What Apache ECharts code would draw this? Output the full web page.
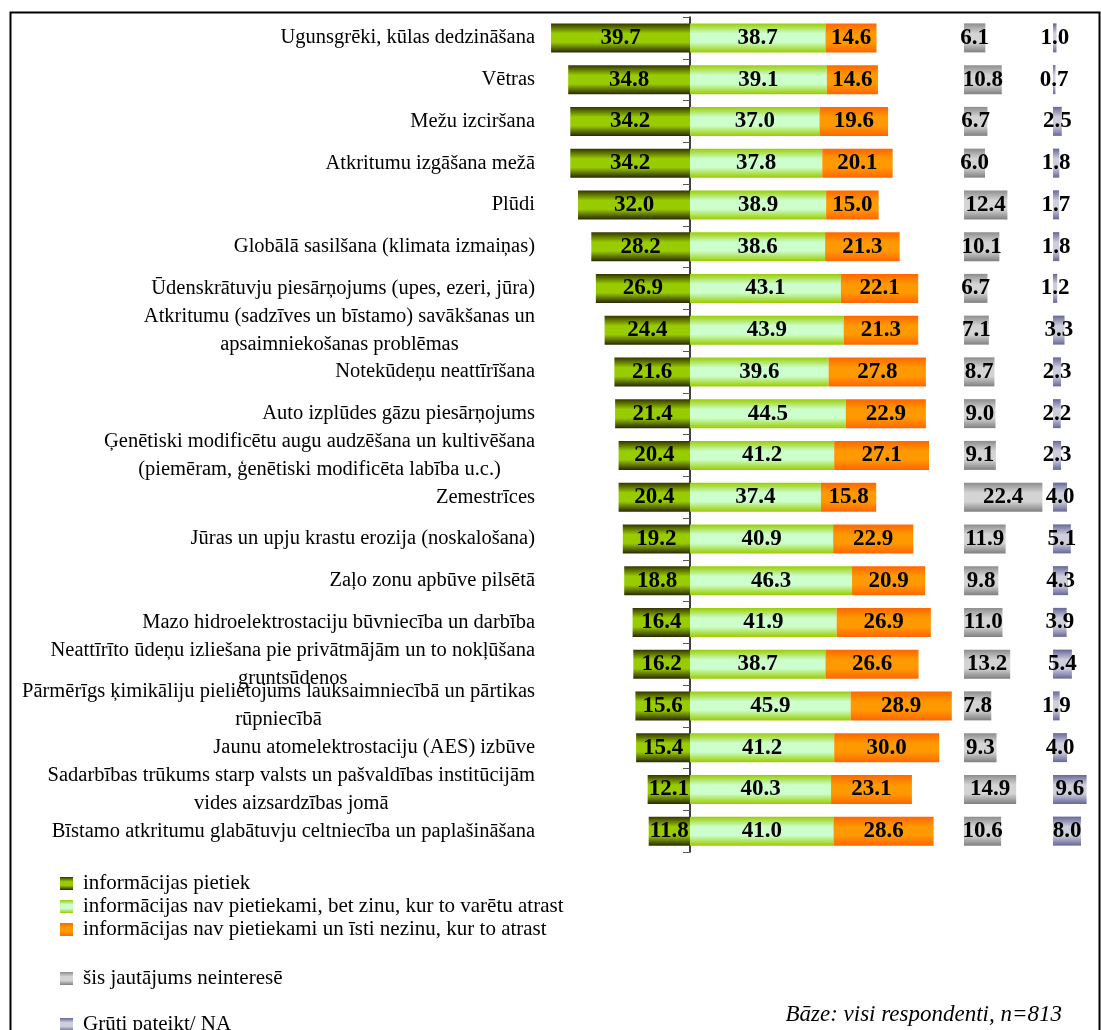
<!DOCTYPE html>
<html>
<head>
<meta charset="utf-8">
<script src="https://cdn.jsdelivr.net/npm/echarts@6/dist/echarts.min.js"></script>
<style>
  html, body { margin: 0; padding: 0; background: #fff; }
  #main { width: 1101px; height: 1030px; }
</style>
</head>
<body>
<div id="main"></div>
<script>
// kategorijas (no augšas uz leju)
var categories = [
  'Ugunsgrēki, kūlas dedzināšana',
  'Vētras',
  'Mežu izciršana',
  'Atkritumu izgāšana mežā',
  'Plūdi',
  'Globālā sasilšana (klimata izmaiņas)',
  'Ūdenskrātuvju piesārņojums (upes, ezeri, jūra)',
  'Atkritumu (sadzīves un bīstamo) savākšanas un\napsaimniekošanas problēmas',
  'Notekūdeņu neattīrīšana',
  'Auto izplūdes gāzu piesārņojums',
  'Ģenētiski modificētu augu audzēšana un kultivēšana\n(piemēram, ģenētiski modificēta labība u.c.)',
  'Zemestrīces',
  'Jūras un upju krastu erozija (noskalošana)',
  'Zaļo zonu apbūve pilsētā',
  'Mazo hidroelektrostaciju būvniecība un darbība',
  'Neattīrīto ūdeņu izliešana pie privātmājām un to nokļūšana\ngruntsūdenos',
  'Pārmērīgs ķimikāliju pielietojums lauksaimniecībā un pārtikas\nrūpniecībā',
  'Jaunu atomelektrostaciju (AES) izbūve',
  'Sadarbības trūkums starp valsts un pašvaldības institūcijām\nvides aizsardzības jomā',
  'Bīstamo atkritumu glabātuvju celtniecība un paplašināšana'
];

var infoEnough   = [39.7, 34.8, 34.2, 34.2, 32.0, 28.2, 26.9, 24.4, 21.6, 21.4, 20.4, 20.4, 19.2, 18.8, 16.4, 16.2, 15.6, 15.4, 12.1, 11.8];
var infoFindable = [38.7, 39.1, 37.0, 37.8, 38.9, 38.6, 43.1, 43.9, 39.6, 44.5, 41.2, 37.4, 40.9, 46.3, 41.9, 38.7, 45.9, 41.2, 40.3, 41.0];
var infoUnknown  = [14.6, 14.6, 19.6, 20.1, 15.0, 21.3, 22.1, 21.3, 27.8, 22.9, 27.1, 15.8, 22.9, 20.9, 26.9, 26.6, 28.9, 30.0, 23.1, 28.6];
var notInterested = [6.1, 10.8, 6.7, 6.0, 12.4, 10.1, 6.7, 7.1, 8.7, 9.0, 9.1, 22.4, 11.9, 9.8, 11.0, 13.2, 7.8, 9.3, 14.9, 10.6];
var hardToSay     = [1.0, 0.7, 2.5, 1.8, 1.7, 1.8, 1.2, 3.3, 2.3, 2.2, 2.3, 4.0, 5.1, 4.3, 3.9, 5.4, 1.9, 4.0, 9.6, 8.0];

var seriesNames = [
  'informācijas pietiek',
  'informācijas nav pietiekami, bet zinu, kur to varētu atrast',
  'informācijas nav pietiekami un īsti nezinu, kur to atrast',
  'šis jautājums neinteresē',
  'Grūti pateikt/ NA'
];

var serif = '"Liberation Serif", "Times New Roman", serif';
var myChart = echarts.init(document.getElementById('main'));

function grad(a, b, c) {
  return new echarts.graphic.LinearGradient(0, 0, 0, 1, [
    { offset: 0, color: a },
    { offset: 0.35, color: b },
    { offset: 0.65, color: b },
    { offset: 1, color: c }
  ]);
}

var lbl = {
  show: true,
  position: 'inside',
  color: '#000',
  fontFamily: serif,
  fontWeight: 'bold',
  fontSize: 23,
  formatter: function (p) { return Math.abs(p.value).toFixed(1); }
};

var top0 = 17, h0 = 835, barW = 29;

function hiddenCat(idx) {
  return { type: 'category', gridIndex: idx, inverse: true, data: categories, show: false };
}

var legendText = { fontFamily: serif, fontSize: 21, color: '#000', padding: [0, 0, 0, 5] };

var option = {
  animation: false,
  grid: [
    { left: 550, width: 402.5, top: top0, height: h0, outerBoundsMode: 'none' },
    { left: 964, width: 87.5, top: top0, height: h0, outerBoundsMode: 'none' },
    { left: 1053, width: 42, top: top0, height: h0, outerBoundsMode: 'none' }
  ],
  legend: [
    {
      data: seriesNames.slice(0, 3), orient: 'vertical', left: 60, top: 873, padding: 0,
      itemWidth: 13, itemHeight: 13, itemGap: 2, icon: 'rect', textStyle: legendText
    },
    {
      data: [seriesNames[3]], orient: 'vertical', left: 60, top: 968, padding: 0,
      itemWidth: 13, itemHeight: 13, icon: 'rect', textStyle: legendText
    },
    {
      data: [seriesNames[4]], orient: 'vertical', left: 60, top: 1014, padding: 0,
      itemWidth: 13, itemHeight: 13, icon: 'rect', textStyle: legendText
    }
  ],
  xAxis: [
    { type: 'value', gridIndex: 0, min: -40, max: 75, show: false },
    { type: 'value', gridIndex: 1, min: 0, max: 25, show: false },
    { type: 'value', gridIndex: 2, min: 0, max: 12, show: false }
  ],
  yAxis: [
    {
      type: 'category', gridIndex: 0, inverse: true, data: categories,
      axisLine: { onZero: true, lineStyle: { color: '#000', width: 1.5 } },
      axisTick: { show: true, length: 7, lineStyle: { color: '#555' } },
      axisLabel: {
        interval: 0,
        margin: 15,
        align: 'right',
        color: '#000',
        fontFamily: serif,
        fontSize: 20.5,
        lineHeight: 28,
        formatter: function (v) {
          return v.split('\n').map(function (s) { return '{c|' + s + '}'; }).join('\n');
        },
        rich: { c: { align: 'center', fontFamily: serif, fontSize: 20.5, lineHeight: 28, color: '#000' } }
      },
      splitLine: { show: false }
    },
    hiddenCat(1),
    hiddenCat(2)
  ],
  series: [
    {
      name: seriesNames[0], type: 'bar', stack: 'main', barWidth: barW,
      xAxisIndex: 0, yAxisIndex: 0,
      data: infoEnough.map(function (v) { return -v; }),
      itemStyle: { color: grad('#333300', '#99cc00', '#2a2a00') },
      label: lbl
    },
    {
      name: seriesNames[1], type: 'bar', stack: 'main', barWidth: barW,
      xAxisIndex: 0, yAxisIndex: 0,
      data: infoFindable,
      itemStyle: { color: grad('#99cc00', '#ccffcc', '#99cc00') },
      label: lbl
    },
    {
      name: seriesNames[2], type: 'bar', stack: 'main', barWidth: barW,
      xAxisIndex: 0, yAxisIndex: 0,
      data: infoUnknown,
      itemStyle: { color: grad('#ff6600', '#ff9900', '#ff6600') },
      label: lbl
    },
    {
      name: seriesNames[3], type: 'bar', barWidth: barW,
      xAxisIndex: 1, yAxisIndex: 1,
      data: notInterested,
      itemStyle: { color: grad('#8c8c8c', '#d4d4d4', '#808080') },
      label: lbl
    },
    {
      name: seriesNames[4], type: 'bar', barWidth: barW,
      xAxisIndex: 2, yAxisIndex: 2,
      data: hardToSay,
      itemStyle: { color: grad('#666699', '#cfcfdc', '#666699') },
      label: lbl
    }
  ],
  graphic: [
    {
      type: 'rect', left: 8, top: 10, silent: true,
      shape: { width: 1089, height: 1030 },
      style: { fill: 'none', stroke: '#000', lineWidth: 2 }
    },
    {
      type: 'text', right: 39, top: 1003,
      style: {
        text: 'Bāze: visi respondenti, n=813',
        font: 'italic 23px ' + serif,
        fill: '#000'
      }
    }
  ]
};

myChart.setOption(option);
window.onresize = myChart.resize;
</script>
</body>
</html>
